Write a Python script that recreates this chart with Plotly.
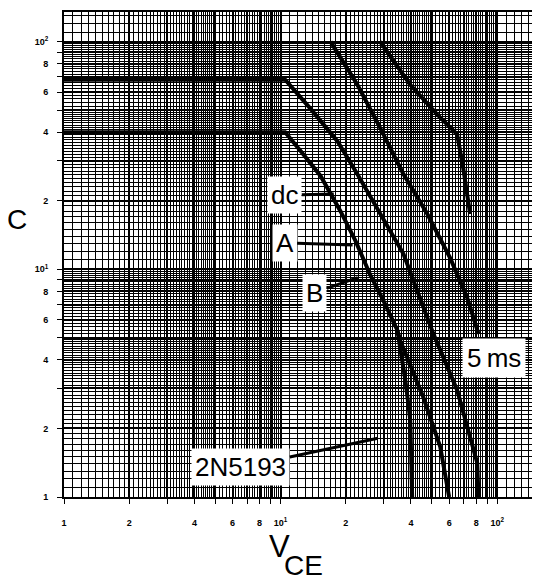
import numpy as np
import plotly.graph_objects as go

# ---------------- data (V_CE, I_C) ----------------
dc_v = [1, 10.5, 12.4, 15.3, 18.9, 22.2, 26.0, 29.8, 34.6, 35.7, 45.6, 54.6, 60]
dc_i = [40, 40, 33, 25.7, 18.0, 13.3, 9.4, 7.3, 5.4, 4.86, 2.74, 1.66, 1]

b40_v = [34.6, 37.7, 39.7, 40.5]
b40_i = [5.4, 3.25, 2.17, 1]

pk_v = [1, 10.5, 13.7, 18.3, 22.6, 28.9, 36.9, 50.7, 65.4, 80.9, 82]
pk_i = [68, 68, 50.9, 36.5, 26.2, 17.5, 11.7, 5.22, 2.94, 1.41, 1]

c3_v = [17, 22.6, 28.9, 36.9, 47.6, 60.7, 72.7, 82]
c3_i = [100, 64.8, 41.6, 26.2, 17.5, 11.2, 7.5, 5.2]

c4_v = [28.8, 39.6, 52.8, 65.3, 69.7, 75]
c4_i = [100, 64.8, 47.9, 39.2, 27.8, 17.5]

# label targets (data coords)
label_text = ["dc", "A", "B", "2N5193"]
label_tip_v = [17.6, 21.5, 22.7, 28.1]
label_tip_i = [21.4, 12.8, 9.2, 1.81]
ms_text = "5\u2009ms"
ms_v, ms_i = 96.9, 4.06

x_labels = {1: "1", 2: "2", 4: "4", 6: "6", 8: "8", 10: "10<sup>1</sup>",
            20: "2", 40: "4", 60: "6", 80: "8", 100: "10<sup>2</sup>"}
y_labels = dict(x_labels)

XMAX_LOG, YMAX_LOG = 2.17, 2.13

# ---------------- grid values ----------------
def major_vals(maxlog):
    vals = []
    for d in [1, 10, 100]:
        for m in range(1, 10):
            v = m * d
            if np.log10(v) <= maxlog + 1e-9:
                vals.append(v)
    return vals

def minor_vals(maxlog):
    vals = []
    for d in [1, 10, 100]:
        ms = list(np.arange(1.1, 5.0, 0.1)) + list(np.arange(5.2, 10.0, 0.2))
        for m in ms:
            m = round(m, 2)
            if abs(m - round(m)) < 1e-6:
                continue
            v = m * d
            if np.log10(v) <= maxlog:
                vals.append(v)
    return vals

xmaj = major_vals(XMAX_LOG)
ymaj = major_vals(YMAX_LOG)

fig = go.Figure()
line_style = dict(color="black", width=4)
for vv, ii in [(dc_v, dc_i), (b40_v, b40_i), (pk_v, pk_i), (c3_v, c3_i), (c4_v, c4_i)]:
    fig.add_trace(go.Scatter(x=vv, y=ii, mode="lines", line=line_style,
                             showlegend=False, hoverinfo="skip"))

tickfont = dict(family="Liberation Sans", size=9, color="black", weight="bold")
axis_common = dict(type="log", showline=True, linecolor="black", linewidth=2, mirror=True,
                   gridcolor="black", gridwidth=1.8, ticks="outside", ticklen=5,
                   tickcolor="black", tickfont=tickfont, zeroline=False)

fig.update_xaxes(range=[0, XMAX_LOG], tickmode="array", tickvals=xmaj,
                 ticktext=[x_labels.get(v, "") for v in xmaj], ticklabelstandoff=11,
                 minor=dict(tickmode="array", tickvals=minor_vals(XMAX_LOG), showgrid=True,
                            gridcolor="black", gridwidth=1, ticks=""),
                 **axis_common)
fig.update_yaxes(range=[0, YMAX_LOG], tickmode="array", tickvals=ymaj,
                 ticktext=[y_labels.get(v, "") for v in ymaj], ticklabelstandoff=7,
                 minor=dict(tickmode="array", tickvals=minor_vals(YMAX_LOG), showgrid=True,
                            gridcolor="black", gridwidth=1, ticks=""),
                 **axis_common)

lab_font = dict(family="Liberation Sans", size=26, color="black")
offsets = [(-49, 1), (-68, -2), (-43, 15), (-137, 29)]
for t, v, i, (ax, ay) in zip(label_text, label_tip_v, label_tip_i, offsets):
    fig.add_annotation(x=np.log10(v), y=np.log10(i), text=t, showarrow=True,
                       arrowhead=0, arrowwidth=3, arrowcolor="black", ax=ax, ay=ay,
                       standoff=0, bgcolor="white", borderpad=3, font=lab_font)
fig.add_annotation(x=np.log10(ms_v), y=np.log10(ms_i), text=ms_text, showarrow=False,
                   bgcolor="white", borderpad=4, font=lab_font)

# axis titles
fig.add_annotation(xref="paper", yref="paper", x=0.459, y=-0.103, text="V",
                   xanchor="center", yanchor="middle", showarrow=False,
                   font=dict(family="Liberation Sans", size=31, color="black"))
fig.add_annotation(xref="paper", yref="paper", x=0.51, y=-0.142, text="CE",
                   xanchor="center", yanchor="middle", showarrow=False,
                   font=dict(family="Liberation Sans", size=28, color="black"))
fig.add_annotation(xref="paper", yref="paper", x=-0.1, y=0.573, text="C",
                   xanchor="center", yanchor="middle", showarrow=False,
                   font=dict(family="Liberation Sans", size=28, color="black"))

# page body adds an 8px offset, so the figure is 8px smaller with reduced left/top margins
fig.update_layout(width=532, height=572, margin=dict(l=56, r=6, t=2, b=83),
                  plot_bgcolor="white", paper_bgcolor="white")

fig.write_html("out.html")
